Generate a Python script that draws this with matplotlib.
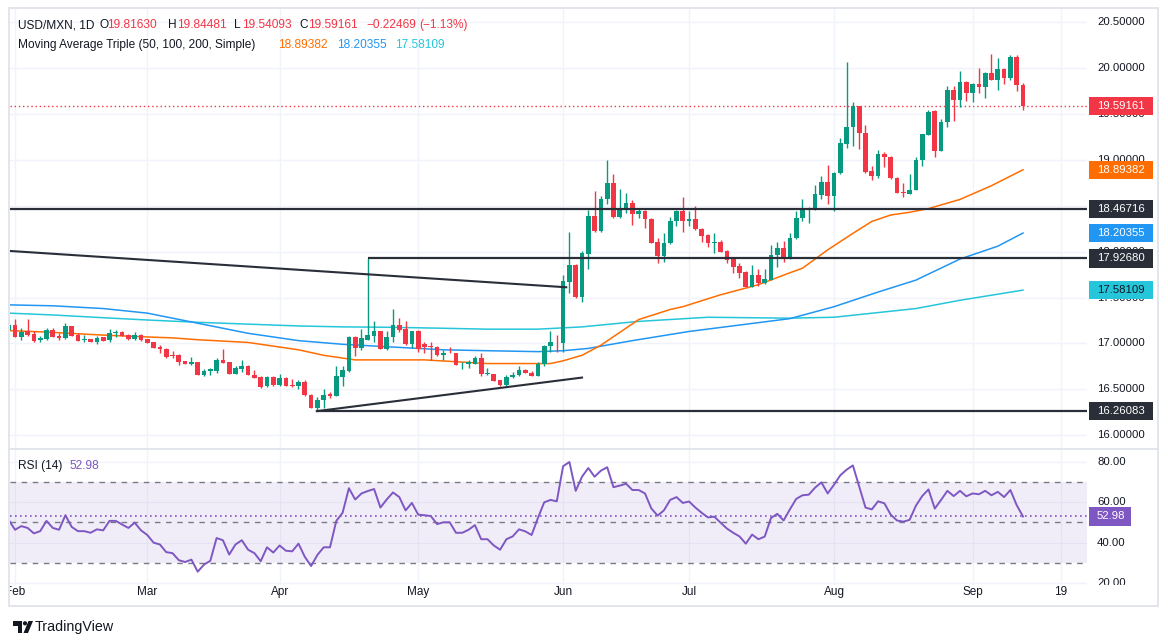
import matplotlib.pyplot as plt
from matplotlib.patches import Rectangle, Circle, Polygon

plt.rcParams['font.family'] = ['Liberation Sans', 'DejaVu Sans']

# USD/MXN daily candles, 31 Jan .. 12 Sep 2024 (index 0 = 31 Jan)
opens = [17.15, 17.20, 17.07, 17.13, 17.10, 17.04, 17.05, 17.15, 17.08, 17.06,
         17.19, 17.09, 17.04, 17.05, 17.02, 17.07, 17.04, 17.11, 17.12, 17.09,
         17.05, 17.09, 17.05, 17.02, 16.96, 16.94, 16.87, 16.87, 16.81, 16.78,
         16.80, 16.65, 16.70, 16.70, 16.82, 16.80, 16.67, 16.72, 16.75, 16.66,
         16.63, 16.53, 16.63, 16.55, 16.62, 16.55, 16.53, 16.58, 16.44, 16.30,
         16.38, 16.45, 16.43, 16.63, 16.70, 17.07, 16.95, 17.04, 17.08, 17.14,
         16.94, 17.07, 17.20, 17.16, 16.99, 17.14, 16.99, 16.97, 16.96, 16.87,
         16.90, 16.89, 16.77, 16.77, 16.78, 16.84, 16.67, 16.67, 16.60, 16.55,
         16.63, 16.65, 16.71, 16.68, 16.64, 16.78, 16.97, 17.02, 17.00, 17.67,
         17.86, 17.51, 17.98, 18.39, 18.23, 18.58, 18.75, 18.38, 18.46, 18.53,
         18.41, 18.44, 18.36, 18.11, 17.95, 18.10, 18.33, 18.44, 18.33, 18.36,
         18.25, 18.18, 18.10, 18.11, 18.01, 17.92, 17.84, 17.78, 17.61, 17.75,
         17.66, 17.69, 17.96, 18.04, 17.93, 18.15, 18.37, 18.46, 18.47, 18.62,
         18.76, 18.61, 18.86, 19.18, 19.36, 19.59, 19.29, 18.88, 18.83, 19.07,
         19.03, 18.80, 18.65, 18.63, 18.67, 19.00, 19.27, 19.53, 19.10, 19.41,
         19.76, 19.65, 19.85, 19.73, 19.83, 19.80, 19.95, 19.87, 19.99, 19.89,
         20.12, 19.81630]
highs = [17.22, 17.27, 17.17, 17.27, 17.13, 17.08, 17.17, 17.17, 17.11, 17.22,
         17.19, 17.11, 17.09, 17.05, 17.08, 17.07, 17.16, 17.15, 17.13, 17.10,
         17.12, 17.10, 17.05, 17.02, 16.98, 16.95, 16.92, 16.88, 16.81, 16.85,
         16.80, 16.72, 16.73, 16.84, 16.94, 16.80, 16.75, 16.82, 16.76, 16.71,
         16.64, 16.64, 16.64, 16.67, 16.63, 16.61, 16.60, 16.60, 16.45, 16.42,
         16.50, 16.47, 16.75, 16.75, 17.08, 17.08, 17.16, 17.93, 17.24, 17.14,
         17.13, 17.38, 17.28, 17.24, 17.14, 17.15, 17.02, 17.02, 16.97, 16.93,
         16.96, 16.89, 16.80, 16.82, 16.86, 16.89, 16.73, 16.67, 16.60, 16.66,
         16.69, 16.75, 16.72, 16.70, 16.80, 16.98, 17.13, 17.09, 17.75, 18.21,
         17.87, 18.01, 18.45, 18.66, 18.61, 19.00, 18.85, 18.68, 18.64, 18.56,
         18.47, 18.45, 18.37, 18.15, 18.20, 18.38, 18.46, 18.60, 18.44, 18.50,
         18.26, 18.19, 18.20, 18.13, 18.02, 17.93, 17.88, 17.79, 17.85, 17.81,
         17.81, 18.07, 18.11, 18.12, 18.20, 18.44, 18.58, 18.49, 18.73, 18.83,
         18.95, 18.87, 19.24, 20.07, 19.63, 19.59, 19.38, 18.93, 19.11, 19.09,
         19.04, 18.82, 18.75, 18.85, 19.03, 19.28, 19.55, 19.55, 19.45, 19.81,
         19.81, 19.97, 19.86, 19.84, 20.00, 19.96, 20.16, 20.11, 20.00, 20.15,
         20.15, 19.84481]
lows = [17.13, 17.07, 17.04, 17.08, 17.01, 17.01, 17.04, 17.07, 17.04, 17.05,
        17.08, 17.03, 17.02, 17.02, 16.99, 17.03, 17.01, 17.07, 17.08, 17.04,
        17.04, 17.03, 17.00, 16.95, 16.90, 16.84, 16.84, 16.76, 16.78, 16.76,
        16.65, 16.64, 16.66, 16.68, 16.79, 16.67, 16.67, 16.69, 16.65, 16.62,
        16.51, 16.52, 16.54, 16.54, 16.54, 16.52, 16.50, 16.43, 16.30, 16.2608,
        16.30, 16.40, 16.43, 16.54, 16.69, 16.86, 16.93, 17.04, 17.01, 16.94,
        16.93, 17.01, 17.12, 16.98, 16.95, 16.91, 16.90, 16.82, 16.86, 16.82,
        16.89, 16.76, 16.72, 16.73, 16.78, 16.64, 16.66, 16.59, 16.54, 16.53,
        16.62, 16.64, 16.68, 16.64, 16.64, 16.75, 16.91, 16.91, 16.91, 17.55,
        17.49, 17.45, 17.81, 18.22, 18.22, 18.52, 18.37, 18.37, 18.42, 18.29,
        18.37, 18.26, 18.10, 17.88, 17.89, 18.08, 18.28, 18.21, 18.28, 18.24,
        18.11, 18.05, 17.99, 18.00, 17.88, 17.77, 17.71, 17.61, 17.61, 17.63,
        17.65, 17.69, 17.83, 17.89, 17.92, 18.14, 18.33, 18.31, 18.46, 18.58,
        18.52, 18.44, 18.85, 19.13, 19.15, 19.12, 18.86, 18.78, 18.80, 18.92,
        18.79, 18.64, 18.60, 18.63, 18.67, 18.94, 19.27, 19.03, 19.10, 19.36,
        19.43, 19.58, 19.64, 19.63, 19.73, 19.68, 19.87, 19.76, 19.83, 19.87,
        19.75, 19.54093]
closes = [17.20, 17.07, 17.12, 17.09, 17.03, 17.06, 17.15, 17.07, 17.06, 17.19,
          17.08, 17.03, 17.05, 17.02, 17.06, 17.03, 17.11, 17.12, 17.08, 17.05,
          17.09, 17.04, 17.00, 16.95, 16.94, 16.85, 16.86, 16.80, 16.78, 16.80,
          16.65, 16.70, 16.72, 16.82, 16.79, 16.67, 16.73, 16.75, 16.65, 16.62,
          16.52, 16.63, 16.55, 16.62, 16.54, 16.53, 16.58, 16.44, 16.30, 16.38,
          16.44, 16.43, 16.64, 16.71, 17.07, 16.95, 17.06, 17.09, 17.14, 16.94,
          17.07, 17.20, 17.15, 16.99, 17.14, 16.94, 16.96, 16.96, 16.87, 16.89,
          16.89, 16.76, 16.78, 16.80, 16.84, 16.67, 16.68, 16.59, 16.55, 16.63,
          16.66, 16.71, 16.68, 16.64, 16.78, 16.97, 17.01, 17.01, 17.68, 17.86,
          17.51, 17.99, 18.39, 18.23, 18.58, 18.75, 18.38, 18.46, 18.53, 18.41,
          18.44, 18.36, 18.10, 17.95, 18.10, 18.34, 18.44, 18.33, 18.36, 18.25,
          18.17, 18.09, 18.11, 18.00, 17.91, 17.83, 17.77, 17.61, 17.75, 17.66,
          17.70, 17.96, 18.04, 17.93, 18.15, 18.37, 18.46, 18.47, 18.63, 18.76,
          18.61, 18.86, 19.19, 19.36, 19.59, 19.29, 18.87, 18.83, 19.07, 19.03,
          18.80, 18.64, 18.64, 18.67, 19.00, 19.28, 19.52, 19.10, 19.41, 19.76,
          19.65, 19.85, 19.73, 19.83, 19.80, 19.95, 19.87, 19.99, 19.89, 20.12,
          19.81630, 19.59161]

# moving averages, read at sample bars
ma50_x = [0, 7, 15, 22, 26, 30, 38, 43, 46, 50, 53, 55, 60, 66, 71, 76, 82, 86,
          88, 91, 94, 100, 105, 107, 113, 119, 124, 126, 127, 130, 134, 137, 140,
          143, 146, 151, 156, 161]
ma50 = [17.14, 17.12, 17.09, 17.07, 17.06, 17.04, 17.01, 16.96, 16.93, 16.87,
        16.84, 16.82, 16.82, 16.82, 16.80, 16.78, 16.78, 16.78, 16.81, 16.87,
        16.98, 17.26, 17.37, 17.40, 17.53, 17.64, 17.77, 17.82, 17.87, 18.02,
        18.20, 18.33, 18.40, 18.43, 18.47, 18.57, 18.72, 18.89382]
ma100_x = [0, 7, 15, 22, 30, 38, 46, 53, 61, 69, 76, 84, 88, 92, 99, 108, 116,
           124, 131, 138, 144, 151, 157, 161]
ma100 = [17.42, 17.41, 17.38, 17.33, 17.22, 17.11, 17.03, 16.99, 16.96, 16.93,
         16.92, 16.91, 16.92, 16.945, 17.03, 17.13, 17.20, 17.27, 17.40, 17.56,
         17.69, 17.92, 18.06, 18.20355]
ma200_x = [0, 7, 15, 22, 30, 38, 46, 53, 61, 69, 76, 84, 91, 100, 111, 124, 131,
           144, 151, 161]
ma200 = [17.33, 17.31, 17.28, 17.255, 17.23, 17.21, 17.19, 17.18, 17.175, 17.165,
         17.155, 17.155, 17.18, 17.24, 17.285, 17.275, 17.285, 17.38, 17.47,
         17.58109]

rsi = [51.3, 46.4, 48.2, 47.3, 44.6, 45.7, 50.8, 47.3, 46.4, 53.6,
       47.8, 45.7, 45.7, 44.9, 46.6, 46.1, 50.8, 50.8, 49.0, 47.3,
       49.9, 46.1, 43.8, 40.0, 39.1, 35.3, 34.8, 31.3, 30.4, 31.6,
       25.6, 29.1, 31.0, 42.3, 41.2, 34.1, 39.1, 41.2, 36.5, 34.8,
       30.8, 37.7, 35.1, 38.6, 36.0, 35.7, 39.5, 33.0, 28.4, 33.9,
       37.7, 37.7, 50.8, 54.8, 67.0, 61.4, 64.4, 65.6, 66.6, 57.4,
       61.4, 64.9, 62.6, 56.0, 59.7, 53.9, 53.6, 53.2, 49.2, 50.1,
       50.1, 44.9, 44.9, 46.4, 48.7, 41.7, 41.7, 38.6, 36.5, 41.7,
       43.1, 46.6, 45.6, 43.8, 52.2, 60.0, 61.2,
       60.5, 77.9, 80.0, 65.7, 72.7, 77.0, 72.7, 75.7, 77.4, 67.5,
       68.3, 69.2, 66.1, 66.1, 64.4, 57.0, 53.4, 56.0, 61.2, 62.6,
       59.7, 60.4, 57.4, 54.8, 52.5, 52.9, 49.9, 47.0, 44.9, 43.1,
       39.5, 44.0, 41.7, 43.0, 52.2, 54.3, 51.0, 56.5, 61.7, 63.5,
       63.8, 67.3, 69.9, 64.4, 68.7, 73.4, 76.2, 78.3, 67.8, 57.4,
       56.5, 60.5, 59.5, 53.9, 51.0, 50.4, 51.3, 58.3, 63.1, 66.4,
       56.9, 61.2, 65.7, 63.1, 65.7, 63.0, 64.4, 64.0, 65.7, 63.5,
       65.2, 62.6, 66.1, 58.6, 52.98]

# drawn levels / trend lines
res_high = 18.46716
res_mid = 17.92680
sup_low = 16.26083
down_line = ([0.2, 88.5], [18.008, 17.612])
up_line = ([48.9, 91.0], [16.2608, 16.627])

tick_pos = [1, 22, 43, 65, 88, 108, 131, 153, 167]
tick_labels = ['Feb', 'Mar', 'Apr', 'May', 'Jun', 'Jul', 'Aug', 'Sep', '19']
price_ticks = [16.0, 16.5, 17.0, 17.5, 18.0, 18.5, 19.0, 19.5, 20.0, 20.5]
rsi_ticks = [20, 40, 60, 80]

GREEN, RED = '#089981', '#f23645'
ORANGE, BLUE, CYAN = '#ff6d00', '#2196f3', '#26c6da'
PURPLE, DARK, TXT = '#7e57c2', '#2a2e39', '#131722'
GRID = '#f0f3fa'

W, H = 1168, 644
fig = plt.figure(figsize=(W / 100, H / 100), dpi=100)


def rect(x0, y0, x1, y1):
    return [x0 / W, 1 - y1 / H, (x1 - x0) / W, (y1 - y0) / H]


ax = fig.add_axes(rect(10, 9, 1087, 448))
ax_r = fig.add_axes(rect(10, 450, 1087, 585))
ax_ps = fig.add_axes(rect(1087, 9, 1158, 448))
ax_rs = fig.add_axes(rect(1087, 450, 1158, 585))
ax_t = fig.add_axes(rect(10, 585, 1087, 606))
ax_px = fig.add_axes([0, 0, 1, 1], zorder=10)
for a in (ax, ax_r, ax_ps, ax_rs, ax_t, ax_px):
    a.axis('off')

xlim = (0.206, 171.16)
ylim = (15.859, 20.647)
rlim = (19.0, 85.95)
for a in (ax, ax_r, ax_t):
    a.set_xlim(*xlim)
ax.set_ylim(*ylim)
ax_ps.set_ylim(*ylim)
ax_ps.set_xlim(0, 71)
ax_r.set_ylim(*rlim)
ax_rs.set_ylim(*rlim)
ax_rs.set_xlim(0, 71)
ax_t.set_ylim(0, 1)
ax_px.set_xlim(0, W)
ax_px.set_ylim(H, 0)

# grid
for p in price_ticks:
    ax.axhline(p, color=GRID, lw=1, zorder=0)
for v in rsi_ticks:
    ax_r.axhline(v, color=GRID, lw=1, zorder=0)
for k in tick_pos:
    ax.axvline(k, color=GRID, lw=1, zorder=0)
    ax_r.axvline(k, color=GRID, lw=1, zorder=0)

# candles
idx = list(range(len(closes)))
cols = [GREEN if c >= o else RED for o, c in zip(opens, closes)]
ax.vlines(idx, lows, highs, colors=cols, lw=1, zorder=3)
ax.bar(idx, [max(abs(c - o), 0.008) for o, c in zip(opens, closes)],
       bottom=[min(o, c) for o, c in zip(opens, closes)],
       width=0.74, color=cols, linewidth=0, zorder=3)

# moving averages
ax.plot(ma200_x, ma200, color=CYAN, lw=1.1, zorder=2)
ax.plot(ma100_x, ma100, color=BLUE, lw=1.1, zorder=2)
ax.plot(ma50_x, ma50, color=ORANGE, lw=1.1, zorder=2)

# current price line
ax.axhline(closes[-1], color=RED, lw=1, ls=(0, (1, 2)), zorder=2)

# drawings
ax.axhline(res_high, color=DARK, lw=1.6, zorder=5)
ax.hlines([res_mid], 57, xlim[1], color=DARK, lw=1.6, zorder=5)
ax.hlines([sup_low], 48.9, xlim[1], color=DARK, lw=1.6, zorder=5)
ax.plot(*down_line, color=DARK, lw=1.5, zorder=5)
ax.plot(*up_line, color=DARK, lw=1.5, zorder=5)

# price scale: value tags, tick labels cut where a tag covers them
hh = 0.0998   # half tag height
th = 0.055    # half text height
tags = [(closes[-1], RED, 'white'), (ma50[-1], ORANGE, 'white'),
        (res_high, DARK, 'white'), (ma100[-1], BLUE, 'white'),
        (res_mid, DARK, 'white'), (ma200[-1], CYAN, TXT),
        (sup_low, DARK, 'white')]
for p in price_ticks:
    lo, hi = ylim
    for val, _, _ in tags:
        if abs(p - val) < hh + th:
            if p > val:
                lo = max(lo, val + hh)
            else:
                hi = min(hi, val - hh)
    shown = min(hi, p + th) - max(lo, p - th)
    if shown < 0.5 * th:
        continue
    t = ax_ps.text(10, p, f'{p:.5f}', ha='left', va='center', fontsize=8.2,
                   color=TXT, zorder=1)
    t.set_clip_path(Rectangle((0, lo), 71, hi - lo, transform=ax_ps.transData))
for val, fc, tc in tags:
    ax_ps.add_patch(Rectangle((2, val - hh), 64, 2 * hh, fc=fc, ec='none',
                              zorder=3, clip_on=True))
    ax_ps.text(10, val, f'{val:.5f}', ha='left', va='center', fontsize=8.2,
               color=tc, zorder=4, clip_on=True)

# RSI pane
ax_r.fill_between(xlim, 30, 70, color=PURPLE, alpha=0.1, lw=0, zorder=0)
for v in (70, 50, 30):
    ax_r.axhline(v, color='#787b86', lw=1, ls=(0, (4, 4)), zorder=1)
ax_r.axhline(rsi[-1], color=PURPLE, lw=1.2, ls=(0, (1, 2)), zorder=2)
ax_r.plot(idx, rsi, color=PURPLE, lw=1.4, zorder=3)
for v in rsi_ticks:
    ax_rs.text(10, v, f'{v:.2f}', ha='left', va='center', fontsize=8.2,
               color=TXT, clip_on=True)
rh = 4.54
ax_rs.add_patch(Rectangle((2, rsi[-1] - rh), 42, 2 * rh, fc=PURPLE, ec='none',
                          zorder=3, clip_on=True))
ax_rs.text(10, rsi[-1], f'{rsi[-1]:.2f}', ha='left', va='center', fontsize=8.2,
           color='white', zorder=4, clip_on=True)

# time axis
for k, lab in zip(tick_pos, tick_labels):
    ax_t.text(k, 0.66, lab, ha='center', va='center', fontsize=8.5,
              color=TXT, clip_on=True)

# header legends
chg = closes[-1] - closes[-2]
pct = chg / closes[-2] * 100


def sgn(v, fmt):
    s = format(abs(v), fmt)
    return ('\u2212' if v < 0 else '+') + s


hdr = [(18.3, 'USD/MXN, 1D', TXT), (99.3, 'O', TXT),
       (107.3, f'{opens[-1]:.5f}', RED), (168.3, 'H', TXT),
       (176.7, f'{highs[-1]:.5f}', RED), (234.3, 'L', TXT),
       (241.7, f'{lows[-1]:.5f}', RED), (299.3, 'C', TXT),
       (308.3, f'{closes[-1]:.5f}', RED), (366, sgn(chg, '.5f'), RED),
       (419, '(' + sgn(pct, '.2f') + '%)', RED)]
for x, s, c in hdr:
    ax_px.text(x, 25, s, ha='left', va='center', fontsize=8.6, color=c)
hdr2 = [(18.3, 'Moving Average Triple (50, 100, 200, Simple)', TXT),
        (277.7, f'{ma50[-1]:.5f}', ORANGE), (336.7, f'{ma100[-1]:.5f}', BLUE),
        (395, f'{ma200[-1]:.5f}', CYAN)]
for x, s, c in hdr2:
    ax_px.text(x, 44.5, s, ha='left', va='center', fontsize=8.6, color=c)
ax_px.text(18.2, 466, 'RSI (14)', ha='left', va='center', fontsize=8.6, color=TXT)
ax_px.text(69.5, 466, f'{rsi[-1]:.2f}', ha='left', va='center', fontsize=8.6,
           color=PURPLE)

# frame and pane separator
ax_px.add_patch(Rectangle((9, 8), 1149, 598, fill=False, ec='#e0e3eb', lw=1.3))
ax_px.plot([9, 1158], [449, 449], color='#e0e3eb', lw=1.3)

# TradingView mark
ax_px.add_patch(Polygon([(13, 621), (22, 621), (22, 633), (17.5, 633),
                         (17.5, 625.5), (13, 625.5)], closed=True, fc=TXT, ec='none'))
ax_px.add_patch(Circle((25, 623.3), 2.1, fc=TXT, ec='none'))
ax_px.add_patch(Polygon([(28.5, 621), (33, 621), (28, 633), (23.5, 633)],
                        closed=True, fc=TXT, ec='none'))
ax_px.text(35, 627, 'TradingView', ha='left', va='center', fontsize=10.3,
           color=TXT)

fig.savefig('out.png', dpi=100, facecolor='white')
